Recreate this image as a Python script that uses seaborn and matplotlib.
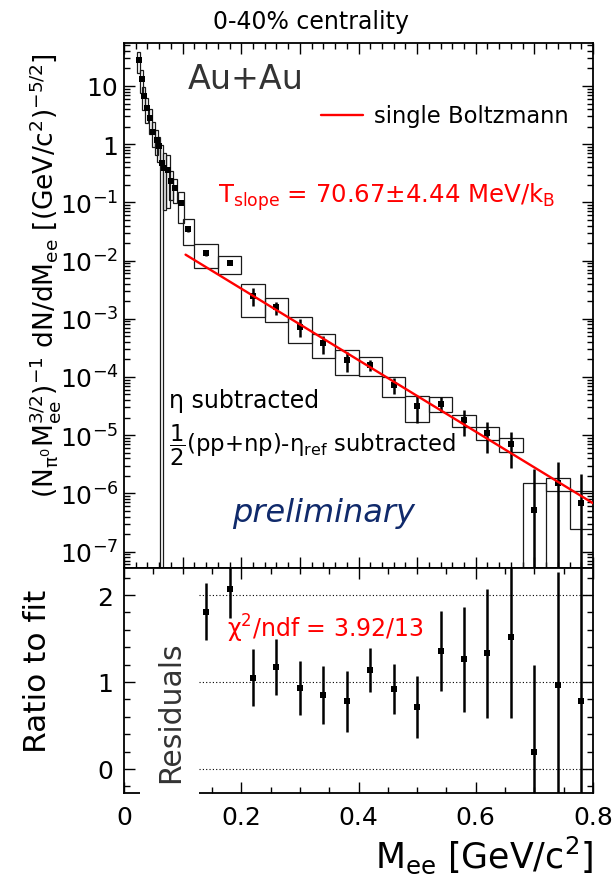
import numpy as np
import pandas as pd
import seaborn as sns
import matplotlib
matplotlib.use("Agg")
import matplotlib.pyplot as plt
from matplotlib.patches import Rectangle
from matplotlib.lines import Line2D
from matplotlib.ticker import (FixedLocator, FixedFormatter, MultipleLocator,
                               NullFormatter, FuncFormatter)

# ---------------- dielectron excess spectrum, 0-40% Au+Au ----------------
mass = [0.025, 0.030, 0.034, 0.039, 0.045, 0.050, 0.056, 0.059, 0.064, 0.069,
        0.075, 0.080, 0.087, 0.097,
        0.11, 0.14, 0.18, 0.22, 0.26, 0.30, 0.34, 0.38, 0.42, 0.46, 0.50,
        0.54, 0.58, 0.62, 0.66, 0.70, 0.74, 0.78]
bin_width = [0.005] * 8 + [0.0056, 0.0065, 0.0075, 0.008, 0.008, 0.01] \
    + [0.02] + [0.04] * 17
yields = [28.0, 13.2, 6.8, 4.2, 2.8, 1.64, 1.19, 0.92, 0.475, 0.385,
          0.36, 0.231, 0.177, 0.098,
          0.0349, 0.0135, 0.0090, 2.49e-3, 1.58e-3, 7.3e-4, 3.8e-4, 1.98e-4,
          1.63e-4, 7.3e-5, 3.2e-5, 3.5e-5, 1.82e-5, 1.10e-5, 7.0e-6,
          5.2e-7, 1.49e-6, 6.8e-7]
stat_err = [2.0, 1.0, 0.5, 0.3, 0.2, 0.12, 0.09, 0.07, 0.035, 0.03,
            0.025, 0.017, 0.013, 0.008,
            0.004, 0.0014, 0.0007, 0.84e-3, 0.40e-3, 0.25e-3, 1.3e-4, 0.75e-4,
            0.35e-4, 2.2e-5, 1.6e-5, 0.95e-5, 0.85e-5, 0.6e-5, 4.3e-6,
            2.1e-6, 2.0e-6, 1.5e-6]
sys_err = [11.0, 5.5, 3.0, 1.9, 1.3, 0.75, 0.55, 0.42, 0.50, 0.31,
           0.28, 0.12, 0.08, 0.053,
           0.0165, 0.006, 0.0032, 1.43e-3, 0.71e-3, 0.34e-3, 1.7e-4, 0.9e-4,
           0.6e-4, 2.8e-5, 1.5e-5, 0.95e-5, 0.43e-5, 0.28e-5, 1.8e-6,
           0.97e-6, 0.37e-6, 0.44e-6]

# data / fit in the fit region
ratio_mass = [0.14, 0.18, 0.22, 0.26, 0.30, 0.34, 0.38, 0.42, 0.46, 0.50,
              0.54, 0.58, 0.62, 0.66, 0.70, 0.74, 0.78]
ratio = [1.81, 2.07, 1.05, 1.17, 0.93, 0.85, 0.78, 1.14, 0.92, 0.71,
         1.36, 1.26, 1.33, 1.52, 0.20, 0.97, 0.78]
ratio_err = [0.33, 0.33, 0.33, 0.32, 0.31, 0.33, 0.35, 0.25, 0.29, 0.36,
             0.46, 0.60, 0.74, 0.93, 1.00, 1.30, 1.70]

# single Boltzmann fit A*exp(-M/T)
t_slope = 0.07067      # GeV
t_slope_err = 0.00444  # GeV
fit_norm = 0.0559
fit_lo, fit_hi = 0.105, 0.80
chi2, ndf = 3.92, 13

W, H = 615, 879
sns.set_theme(style="ticks")
plt.rcParams.update({
    "font.family": ["DejaVu Sans"],
    "mathtext.fontset": "dejavusans",
    "mathtext.default": "regular",
    "axes.linewidth": 1.3,
    "axes.edgecolor": "black",
})


def fig_pt(x, y):
    return x / W, 1 - y / H


fig = plt.figure(figsize=(W / 100, H / 100), dpi=100)
ax = fig.add_axes([124 / W, 1 - 569 / H, 469 / W, 525 / H])
axr = fig.add_axes([124 / W, 1 - 794 / H, 469 / W, 225 / H])

df = pd.DataFrame({"mass": mass, "y": yields, "stat": stat_err,
                   "sys": sys_err, "w": bin_width})
ymin, ymax = 5.22e-8, 54.8
floor = 1e-12

# systematic boxes
for _, r in df.iterrows():
    lo = max(r.y - r.sys, floor)
    hi = r.y + r.sys
    ax.add_patch(Rectangle((r.mass - r.w / 2, lo), r.w, hi - lo,
                           fill=False, edgecolor="#1a1a1a", lw=0.9, zorder=2))

# statistical error bars
low_err = np.minimum(df.stat.values, df.y.values - floor)
ax.errorbar(df.mass, df.y, yerr=[low_err, df.stat.values], fmt="none",
            ecolor="black", elinewidth=1.8, capsize=0, zorder=4)
sns.scatterplot(data=df, x="mass", y="y", marker="s", s=18, color="black",
                edgecolor="black", linewidth=0, ax=ax, zorder=5, legend=False)

# Boltzmann fit
m_grid = np.linspace(fit_lo, fit_hi, 200)
fit_df = pd.DataFrame({"m": m_grid, "f": fit_norm * np.exp(-m_grid / t_slope)})
sns.lineplot(data=fit_df, x="m", y="f", color="#ff0000", lw=1.7, ax=ax,
             zorder=6, legend=False)

ax.set_yscale("log")
ax.set_xlim(0, 0.8)
ax.set_ylim(ymin, ymax)
ax.set_xlabel("")
ax.set_ylabel("")
ax.xaxis.set_major_locator(MultipleLocator(0.1))
ax.xaxis.set_minor_locator(MultipleLocator(0.02))
ax.xaxis.set_major_formatter(NullFormatter())
decades = [1e-7, 1e-6, 1e-5, 1e-4, 1e-3, 1e-2, 1e-1, 1, 10]
dec_labels = [r"$10^{-7}$", r"$10^{-6}$", r"$10^{-5}$", r"$10^{-4}$",
              r"$10^{-3}$", r"$10^{-2}$", r"$10^{-1}$", "1", "10"]
ax.yaxis.set_major_locator(FixedLocator(decades))
ax.yaxis.set_major_formatter(FixedFormatter(dec_labels))
minor = [k * d for d in [1e-8] + decades for k in range(2, 10)]
ax.yaxis.set_minor_locator(FixedLocator(minor))
ax.yaxis.set_minor_formatter(NullFormatter())
ax.tick_params(which="both", direction="in", top=True, right=True,
               labelbottom=False, width=1.0, colors="black")
ax.tick_params(which="major", length=8)
ax.tick_params(which="minor", length=4)
ax.tick_params(axis="y", labelsize=18, pad=4)

# ratio panel
axr.hlines([0, 1, 2], 0.128, 0.8, colors="black", linestyles=(0, (1, 2)),
           lw=0.8, zorder=1)
axr.errorbar(ratio_mass, ratio, yerr=ratio_err, fmt="none", ecolor="black",
             elinewidth=1.8, capsize=0, zorder=3)
sns.scatterplot(x=ratio_mass, y=ratio, marker="s", s=18, color="black",
                edgecolor="black", linewidth=0, ax=axr, zorder=4, legend=False)
axr.set_xlim(0, 0.8)
axr.set_ylim(-0.277, 2.311)
axr.xaxis.set_major_locator(MultipleLocator(0.2))
axr.xaxis.set_minor_locator(MultipleLocator(0.05))
axr.xaxis.set_major_formatter(FuncFormatter(lambda v, p: "0" if abs(v) < 1e-9 else f"{v:.1f}"))
axr.yaxis.set_major_locator(MultipleLocator(1))
axr.yaxis.set_minor_locator(MultipleLocator(0.2))
axr.yaxis.set_major_formatter(FuncFormatter(lambda v, p: f"{v:.0f}"))
axr.tick_params(which="both", direction="in", top=True, right=True,
                width=1.0, colors="black", labelsize=18)
axr.tick_params(which="major", length=8)
axr.tick_params(which="minor", length=4)
axr.tick_params(axis="x", pad=9)
axr.tick_params(axis="y", pad=8)
axr.set_xlabel("")
axr.set_ylabel("")
# residual title pad hides the lower-left part of the frame
axr.add_patch(Rectangle((0.027, -0.34), 0.101, 0.2, facecolor="white",
                        edgecolor="none", clip_on=False, zorder=3))

# ---------------- text ----------------
fig.text(*fig_pt(311, 29.5), "0-40% centrality", ha="center", va="baseline",
         fontsize=17, color="black")
fig.text(*fig_pt(188, 89), "Au+Au", ha="left", va="baseline", fontsize=24,
         color="#333333")
fig.add_artist(Line2D([320.7 / W, 363.3 / W], [1 - 116 / H] * 2,
                      color="#ff0000", lw=1.7))
fig.text(*fig_pt(374, 122.7), "single Boltzmann", ha="left", va="baseline",
         fontsize=16.3, color="black")
fig.text(*fig_pt(218, 203),
         f"T$_{{slope}}$ = {t_slope * 1000:.2f}$\\pm${t_slope_err * 1000:.2f} MeV/k$_{{B}}$",
         ha="left", va="baseline", fontsize=17.6, color="#ff0000")
fig.text(*fig_pt(169, 408.3), "η subtracted", ha="left", va="baseline",
         fontsize=17, color="black")
fig.text(*fig_pt(169, 451.7),
         r"$\dfrac{1}{2}$(pp+np)-η$_{ref}$ subtracted", ha="left",
         va="baseline", fontsize=16.4, color="black")
fig.text(*fig_pt(232, 521.7), "preliminary", ha="left", va="baseline",
         fontsize=23, style="italic", color="#102a6b")
fig.text(*fig_pt(227, 637.3), f"χ$^{{2}}$/ndf = {chi2:.2f}/{ndf}",
         ha="left", va="baseline", fontsize=17, color="#ff0000")
fig.text(*fig_pt(171, 712), "Residuals", rotation=90, ha="center",
         va="center", fontsize=21.5, color="#333333", zorder=5)
fig.text(*fig_pt(38, 671), "Ratio to fit", rotation=90, ha="center",
         va="center", fontsize=22.5, color="black")
fig.text(*fig_pt(45, 276),
         r"$(N_{\pi^{0}}M_{ee}^{3/2})^{-1}$ dN/dM$_{ee}$ [(GeV/c$^{2}$)$^{-5/2}$]",
         rotation=90, ha="center", va="center", fontsize=19, color="black")
fig.text(*fig_pt(593, 868.3), r"M$_{ee}$ [GeV/c$^{2}$]", ha="right",
         va="baseline", fontsize=25, color="black")

fig.savefig("out.png", dpi=100)
